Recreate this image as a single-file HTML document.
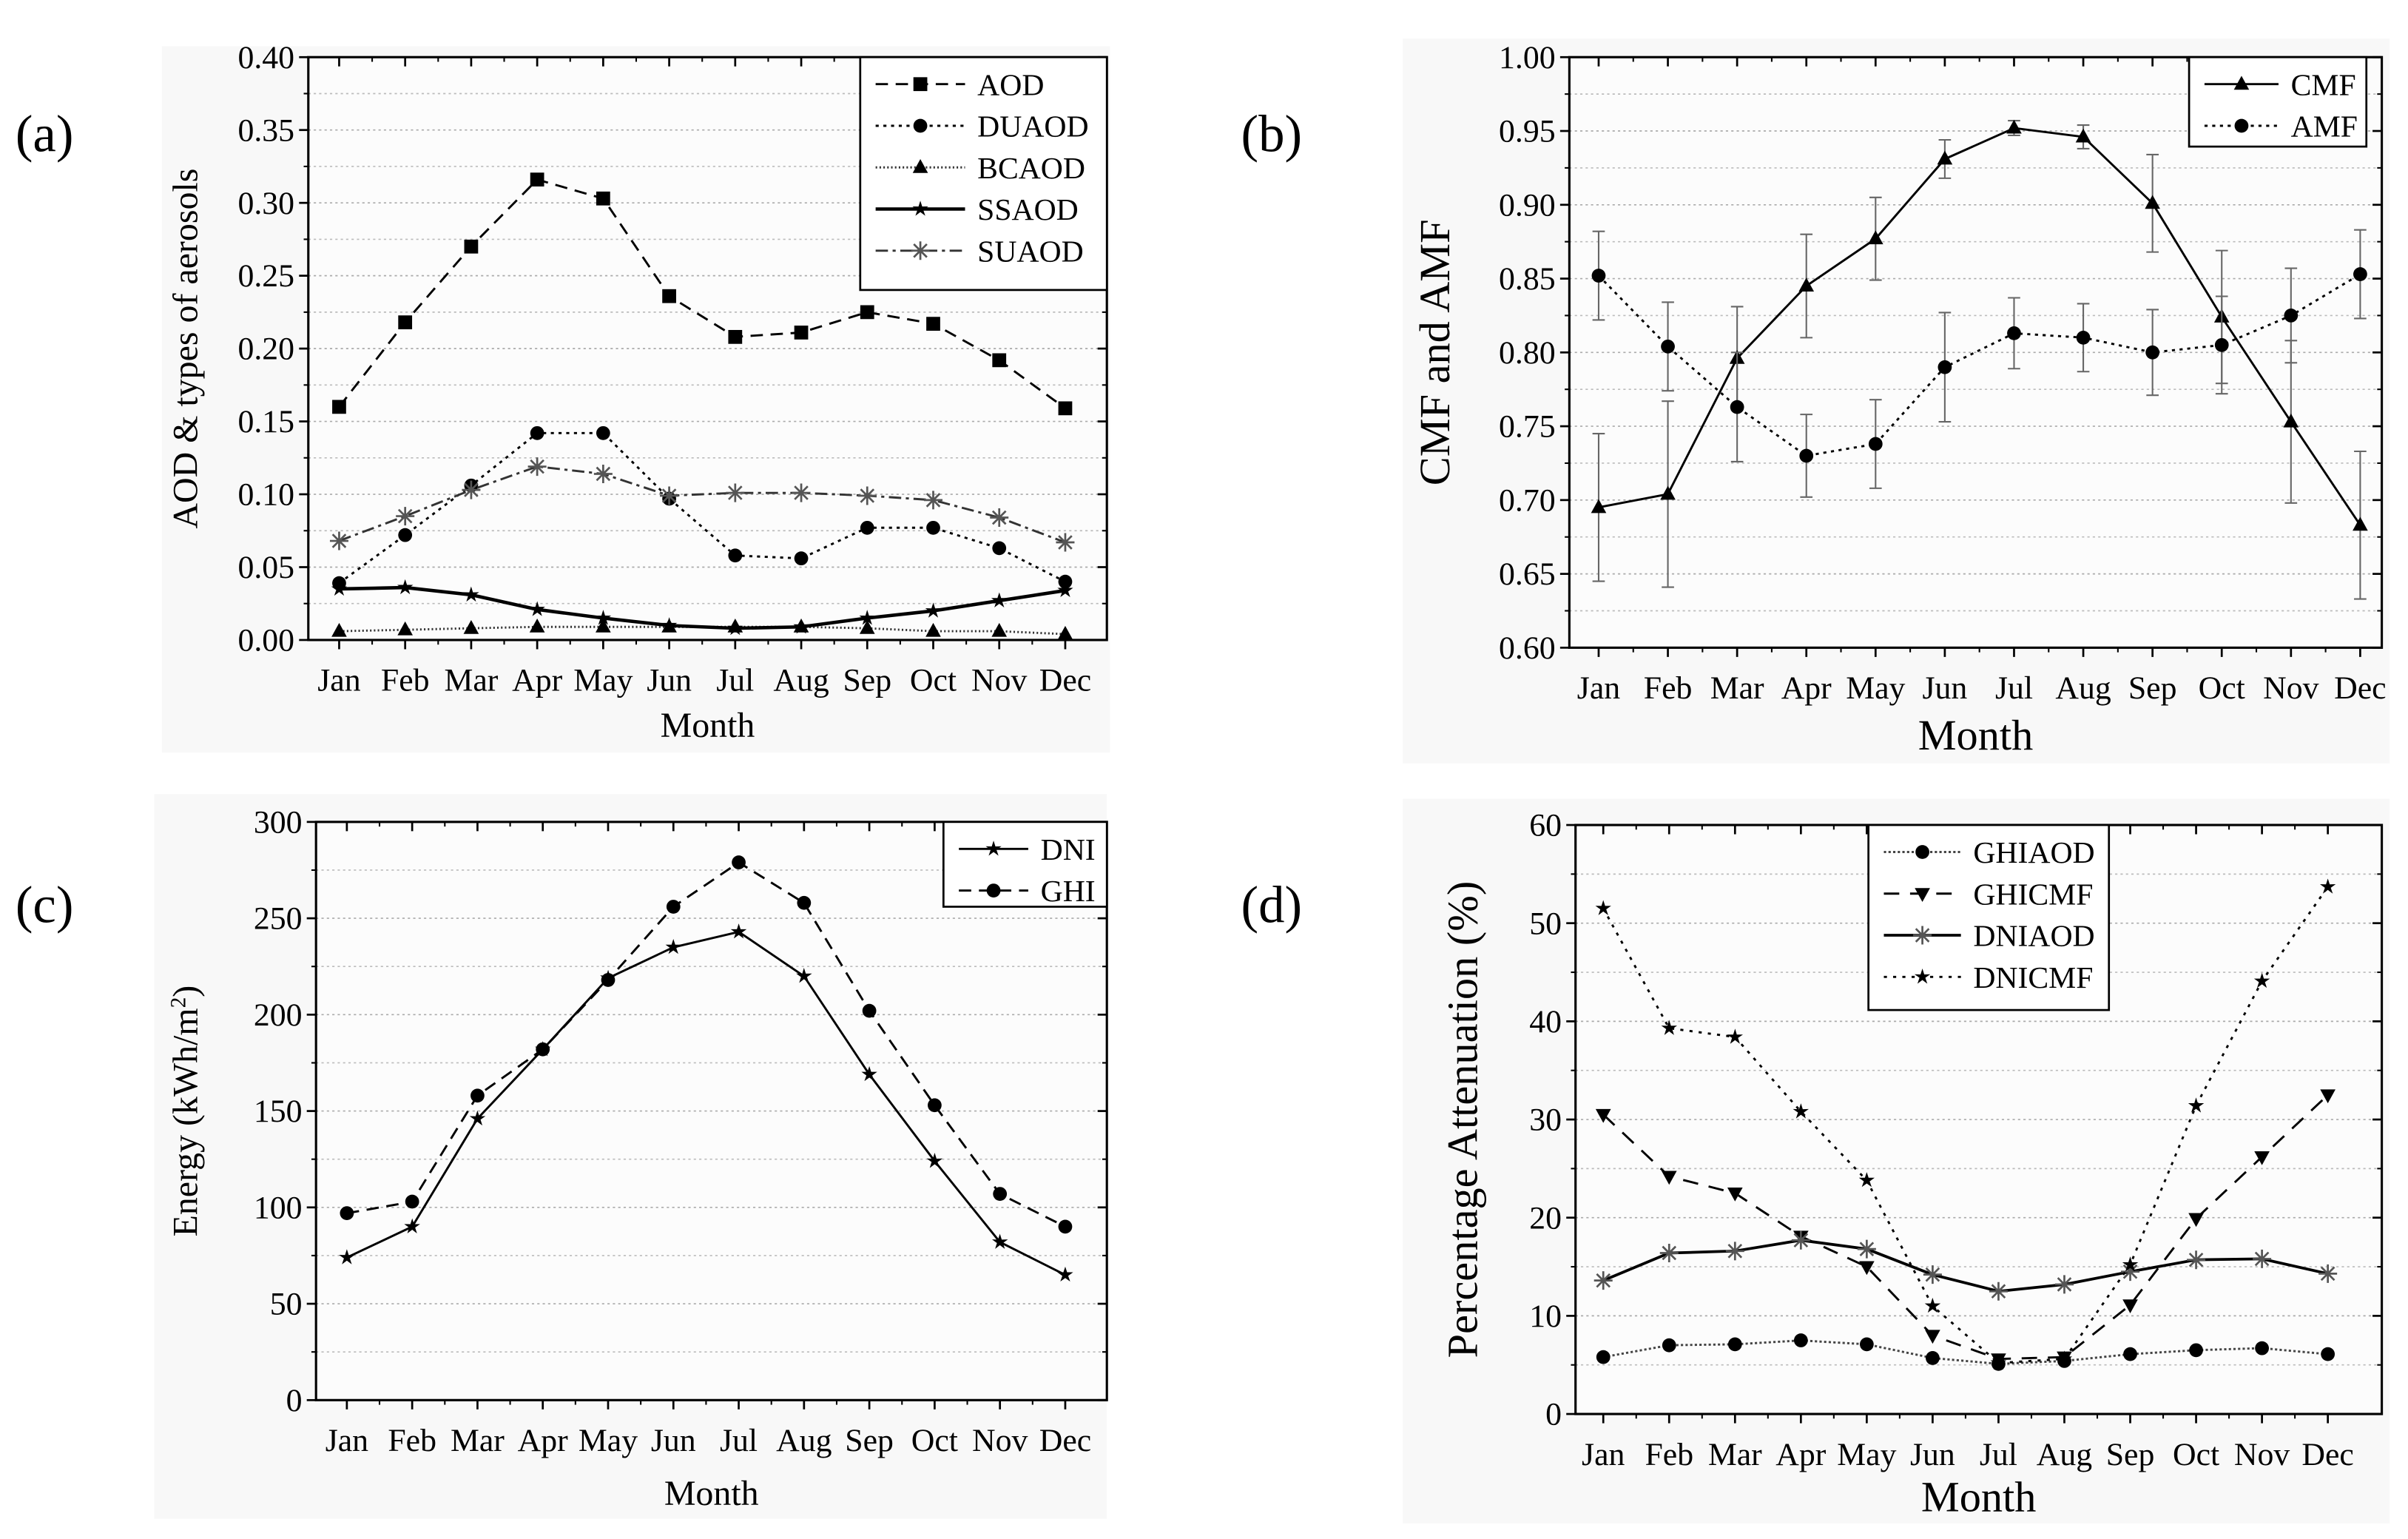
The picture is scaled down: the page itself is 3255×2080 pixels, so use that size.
<!DOCTYPE html>
<html><head><meta charset="utf-8"><style>
html,body{margin:0;padding:0;background:#fff;}
svg{display:block;font-family:"Liberation Serif",serif;}
</style></head><body>
<svg id="fig" width="3255" height="2080" viewBox="0 0 1562 998" xmlns="http://www.w3.org/2000/svg">
<text x="10" y="98" font-size="34">(a)</text>
<text x="805" y="98" font-size="34">(b)</text>
<text x="10" y="598" font-size="34">(c)</text>
<text x="805" y="598" font-size="34">(d)</text>
</svg>
<script>
const months=["Jan","Feb","Mar","Apr","May","Jun","Jul","Aug","Sep","Oct","Nov","Dec"];
// Panel a
const aodA=[0.160,0.218,0.270,0.316,0.303,0.236,0.208,0.211,0.225,0.217,0.192,0.159];
const duaodA=[0.039,0.072,0.106,0.142,0.142,0.097,0.058,0.056,0.077,0.077,0.063,0.040];
const bcaodA=[0.006,0.007,0.008,0.009,0.009,0.009,0.009,0.009,0.008,0.006,0.006,0.004];
const ssaodA=[0.035,0.036,0.031,0.021,0.015,0.010,0.008,0.009,0.015,0.020,0.027,0.034];
const suaodA=[0.068,0.085,0.103,0.119,0.114,0.099,0.101,0.101,0.099,0.096,0.084,0.067];
const ticksA=[0,0.05,0.10,0.15,0.20,0.25,0.30,0.35,0.40];
// Panel b
const cmfB=[0.695,0.704,0.796,0.845,0.877,0.931,0.952,0.946,0.901,0.824,0.753,0.683];
const cmfErrB=[0.05,0.063,0.035,0.035,0.028,0.013,0.005,0.008,0.033,0.045,0.055,0.05];
const amfB=[0.852,0.804,0.763,0.730,0.738,0.790,0.813,0.810,0.800,0.805,0.825,0.853];
const amfErrB=[0.03,0.03,0.037,0.028,0.03,0.037,0.024,0.023,0.029,0.033,0.032,0.03];
const ticksB=[0.60,0.65,0.70,0.75,0.80,0.85,0.90,0.95,1.00];
// Panel c
const dniC=[74,90,146,182,219,235,243,220,169,124,82,65];
const ghiC=[97,103,158,182,218,256,279,258,202,153,107,90];
const ticksC=[0,50,100,150,200,250,300];
// Panel d
const ghiaodD=[5.8,7.0,7.1,7.5,7.1,5.7,5.1,5.4,6.1,6.5,6.7,6.1];
const ghicmfD=[30.5,24.2,22.5,18.1,15.0,8.0,5.6,5.8,11.1,19.9,26.2,32.5];
const dniaodD=[13.6,16.4,16.6,17.7,16.8,14.2,12.5,13.2,14.5,15.7,15.8,14.3];
const dnicmfD=[51.5,39.3,38.4,30.8,23.8,11.0,5.2,5.6,15.2,31.4,44.1,53.7];
const ticksD=[0,10,20,30,40,50,60];

const NS="http://www.w3.org/2000/svg";
const svg=document.getElementById('fig');
function mk(tag,attrs,parent){const e=document.createElementNS(NS,tag);for(const k in attrs)e.setAttribute(k,attrs[k]);(parent||svg).appendChild(e);return e;}
function marker(g,type,x,y,s){
  let e;
  if(type==='square'){e=mk('rect',{x:x-s,y:y-s,width:2*s,height:2*s,fill:'#000'},g);}
  else if(type==='circle'){e=mk('circle',{cx:x,cy:y,r:s,fill:'#000'},g);}
  else if(type==='tri'){e=mk('polygon',{points:`${x},${y-s*1.2} ${x-s*1.1},${y+s*0.8} ${x+s*1.1},${y+s*0.8}`,fill:'#000'},g);}
  else if(type==='tridown'){e=mk('polygon',{points:`${x},${y+s*1.2} ${x-s*1.1},${y-s*0.8} ${x+s*1.1},${y-s*0.8}`,fill:'#000'},g);}
  else if(type==='star'){let p=[];for(let i=0;i<10;i++){const r=i%2?s*0.45:s*1.2;const a=-Math.PI/2+i*Math.PI/5;p.push((x+r*Math.cos(a)).toFixed(1)+','+(y+r*Math.sin(a)).toFixed(1));}e=mk('polygon',{points:p.join(' '),fill:'#000'},g);}
  else if(type==='aster'){let d='';for(let i=0;i<4;i++){const a=i*Math.PI/4;d+=`M${x-s*Math.cos(a)},${y-s*Math.sin(a)}L${x+s*Math.cos(a)},${y+s*Math.sin(a)}`;}e=mk('path',{d:d,stroke:'#555',"stroke-width":1.3,fill:'none'},g);}
  return e;
}
function panel(cfg){
  const g=mk('g',{});
  
  
  const bg=mk('rect',{x:cfg.bg[0],y:cfg.bg[1],width:cfg.bg[2],height:cfg.bg[3],fill:'#f8f8f8'},g);
  
  
  const L=cfg.L,R=cfg.R,T=cfg.T,B=cfg.B,x0=cfg.x0,x1=cfg.x1;
  const ymin=cfg.ticks[0],ymax=cfg.ticks[cfg.ticks.length-1];
  const xs=i=>x0+(x1-x0)*i/11;
  const ys=v=>B-(v-ymin)/(ymax-ymin)*(B-T);
  mk('rect',{x:L,y:T,width:R-L,height:B-T,fill:'#fcfcfc'},g);
  cfg.ticks.forEach((t,i)=>{
    if(i>0&&i<cfg.ticks.length-1){mk('line',{x1:L,x2:R,y1:ys(t),y2:ys(t),stroke:'#aaa','stroke-width':0.8,'stroke-dasharray':'1.5 2'},g);}
    if(i<cfg.ticks.length-1){const m=(t+cfg.ticks[i+1])/2;mk('line',{x1:L,x2:R,y1:ys(m),y2:ys(m),stroke:'#bbb','stroke-width':0.8,'stroke-dasharray':'1.5 2'},g);}
  });
  mk('rect',{x:L,y:T,width:R-L,height:B-T,fill:'none',stroke:'#000','stroke-width':1.5},g);
  cfg.ticks.forEach((t,i)=>{
    const y=ys(t);
    mk('line',{x1:L-6,x2:L,y1:y,y2:y,stroke:'#000','stroke-width':1.3},g);
    mk('line',{x1:R-6,x2:R,y1:y,y2:y,stroke:'#000','stroke-width':1.3},g);
    if(i<cfg.ticks.length-1){const m=ys((t+cfg.ticks[i+1])/2);mk('line',{x1:L-3,x2:L,y1:m,y2:m,stroke:'#000'},g);mk('line',{x1:R-3,x2:R,y1:m,y2:m,stroke:'#000'},g);}
    const tx=mk('text',{x:L-9,y:y+7,'font-size':cfg.tfs,'text-anchor':'end'},g);
    tx.textContent=t.toFixed(cfg.dec);
    
    
  });
  months.forEach((m,i)=>{
    const x=xs(i);
    mk('line',{x1:x,x2:x,y1:B,y2:B+6,stroke:'#000','stroke-width':1.3},g);
    mk('line',{x1:x,x2:x,y1:T,y2:T+6,stroke:'#000','stroke-width':1.3},g);
    if(i<11){const h=(x+xs(i+1))/2;mk('line',{x1:h,x2:h,y1:B,y2:B+3,stroke:'#000'},g);mk('line',{x1:h,x2:h,y1:T,y2:T+3,stroke:'#000'},g);}
    const tx=mk('text',{x:x,y:B+cfg.tfs+12,'font-size':cfg.tfs,'text-anchor':'middle'},g);
    tx.textContent=m;
    
    
  });
  const xt=mk('text',{x:(L+R)/2,y:cfg.xty,'font-size':cfg.afs,'text-anchor':'middle'},g);
  xt.textContent='Month';
  
  
  const yt=mk('text',{x:0,y:0,'font-size':cfg.afs,'text-anchor':'middle',transform:`translate(${cfg.ytx},${(T+B)/2}) rotate(-90)`},g);
  yt.innerHTML=cfg.ytitle;
  
  
  cfg.series.forEach(s=>{
    const sg=mk('g',{},g);
    
    
    if(s.err){s.vals.forEach((v,i)=>{const x=xs(i),a=ys(v-s.err[i]),b=ys(v+s.err[i]);
      const eb=mk('path',{d:`M${x},${a}L${x},${b}M${x-4},${a}L${x+4},${a}M${x-4},${b}L${x+4},${b}`,stroke:'#666','stroke-width':1},sg);
      
      });}
    const pts=s.vals.map((v,i)=>xs(i).toFixed(1)+','+ys(v).toFixed(1)).join(' ');
    const pl=mk('polyline',{points:pts,fill:'none',stroke:s.color||'#000','stroke-width':s.w||1.4,'stroke-dasharray':s.dash||''},sg);
    
    
    s.vals.forEach((v,i)=>{const mkr=marker(sg,s.m,xs(i),ys(v),s.ms||4.5);
      
      });
  });
  const lg=mk('g',{},g);
  
  
  const lb=cfg.leg;
  mk('rect',{x:lb[0],y:lb[1],width:lb[2],height:lb[3],fill:'#fff',stroke:'#000','stroke-width':1.3},lg);
  cfg.series.forEach((s,i)=>{
    const y=lb[1]+lb[5]/2+4+i*lb[5];
    const le=mk('g',{},lg);
    
    
    mk('line',{x1:lb[0]+10,x2:lb[0]+lb[4],y1:y,y2:y,stroke:s.color||'#000','stroke-width':s.w||1.4,'stroke-dasharray':s.dash||''},le);
    marker(le,s.m,lb[0]+10+(lb[4]-10)/2,y,s.ms||4.5);
    const t=mk('text',{x:lb[0]+lb[4]+8,y:y+7,'font-size':cfg.lfs},le);
    t.textContent=s.label;
  });
}
panel({name:'panel-a',bg:[105,30,615,458],L:200,R:718,T:37,B:415,x0:220,x1:691,ticks:ticksA,dec:2,tfs:21,afs:23,lfs:20,
  xty:478,ytx:128,ytitle:'AOD &amp; types of aerosols',leg:[558,37,160,151,68,27],
  series:[{label:'AOD',vals:aodA,m:'square',dash:'8 5'},{label:'DUAOD',vals:duaodA,m:'circle',dash:'2 3'},
  {label:'BCAOD',vals:bcaodA,m:'tri',dash:'1 1.5',color:'#333'},{label:'SSAOD',vals:ssaodA,m:'star',w:2.2},
  {label:'SUAOD',vals:suaodA,m:'aster',dash:'8 3 2 3',color:'#333',ms:6}]});
panel({name:'panel-b',bg:[910,25,640,470],L:1018,R:1545,T:37,B:420,x0:1037,x1:1531,ticks:ticksB,dec:2,tfs:21,afs:28,lfs:20,
  xty:486,ytx:940,ytitle:'CMF and AMF',leg:[1420,37,115,58,58,27],
  series:[{label:'CMF',vals:cmfB,err:cmfErrB,m:'tri'},{label:'AMF',vals:amfB,err:amfErrB,m:'circle',dash:'2 3'}]});
panel({name:'panel-c',bg:[100,515,618,470],L:205,R:718,T:533,B:908,x0:225,x1:691,ticks:ticksC,dec:0,tfs:21,afs:23,lfs:20,
  xty:976,ytx:128,ytitle:'Energy (kWh/m<tspan baseline-shift="super" font-size="14">2</tspan>)',leg:[612,533,106,55,55,27],
  series:[{label:'DNI',vals:dniC,m:'star'},{label:'GHI',vals:ghiC,m:'circle',dash:'8 5'}]});
panel({name:'panel-d',bg:[910,518,640,470],L:1022,R:1545,T:535,B:917,x0:1040,x1:1510,ticks:ticksD,dec:0,tfs:21,afs:28,lfs:20,
  xty:980,ytx:958,ytitle:'Percentage Attenuation (%)',leg:[1212,535,156,120,60,27],
  series:[{label:'GHIAOD',vals:ghiaodD,m:'circle',dash:'1.5 1.5',color:'#444'},{label:'GHICMF',vals:ghicmfD,m:'tridown',dash:'10 7'},
  {label:'DNIAOD',vals:dniaodD,m:'aster',w:1.8,ms:6},{label:'DNICMF',vals:dnicmfD,m:'star',dash:'2 4'}]});
</script>
</body></html>
